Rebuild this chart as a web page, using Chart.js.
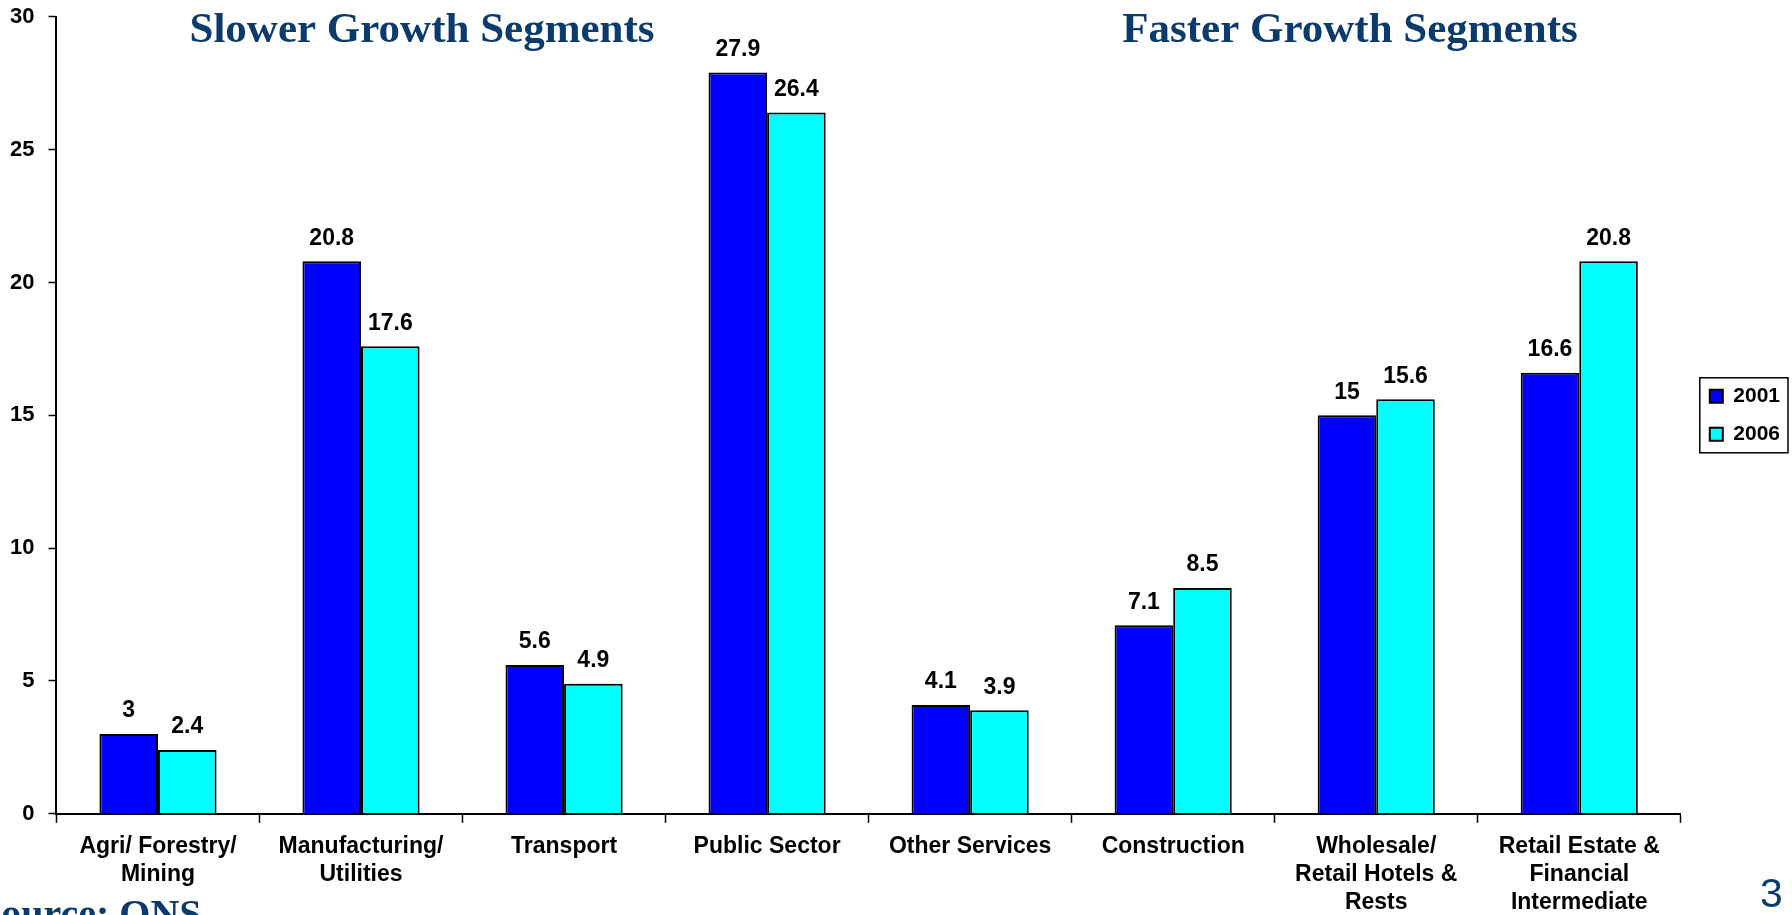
<!DOCTYPE html>
<html>
<head>
<meta charset="utf-8">
<script src="https://cdn.jsdelivr.net/npm/chart.js@4.4.0/dist/chart.umd.min.js"></script>
<style>
  html, body { margin: 0; padding: 0; background: #fff; overflow: hidden; }
  #wrap { position: relative; width: 1792px; height: 915px; }
</style>
</head>
<body>
<div id="wrap"><canvas id="barChartCanvas" width="1792" height="915"></canvas></div>
<script>
// data
const categories = [
    ["Agri/ Forestry/", "Mining"],
    ["Manufacturing/", "Utilities"],
    ["Transport"],
    ["Public Sector"],
    ["Other Services"],
    ["Construction"],
    ["Wholesale/", "Retail Hotels &", "Rests"],
    ["Retail Estate &", "Financial", "Intermediate"]
];
const values2001 = [3, 20.8, 5.6, 27.9, 4.1, 7.1, 15, 16.6];
const values2006 = [2.4, 17.6, 4.9, 26.4, 3.9, 8.5, 15.6, 20.8];
const seriesNames = ["2001", "2006"];
const yTicks = [0, 5, 10, 15, 20, 25, 30];

const NAVY = "#0b3a6d";
const SANS = "'Liberation Sans', Arial, sans-serif";
const SERIF = "'Liberation Serif', 'Times New Roman', serif";

// value labels over each bar
const valueLabels = {
    id: "valueLabels",
    afterDatasetsDraw(chart) {
        const ctx = chart.ctx;
        ctx.save();
        ctx.font = "bold 23px " + SANS;
        ctx.fillStyle = "#000";
        ctx.textAlign = "center";
        ctx.textBaseline = "middle";
        chart.data.datasets.forEach((ds, i) => {
            chart.getDatasetMeta(i).data.forEach((bar, j) => {
                ctx.fillText(String(ds.data[j]), bar.x, bar.y - 23);
            });
        });
        ctx.restore();
    }
};

// push the legend a little further away from the plot
const legendNudge = {
    id: "legendNudge",
    afterLayout(chart) {
        const lg = chart.legend;
        if (lg) {
            lg.left += 12;
            lg.right += 12;
        }
    }
};

// titles, source, page number and legend frame
const slideText = {
    id: "slideText",
    afterDraw(chart) {
        const ctx = chart.ctx;
        ctx.save();
        ctx.fillStyle = NAVY;
        ctx.textBaseline = "alphabetic";
        ctx.font = "bold 43px " + SERIF;
        ctx.textAlign = "center";
        ctx.fillText("Slower Growth Segments", 422, 42);
        ctx.fillText("Faster Growth Segments", 1350, 42);
        ctx.textAlign = "left";
        ctx.font = "bold 40px " + SERIF;
        ctx.fillText("Source: ONS", -21, 927);
        ctx.font = "41px " + SANS;
        ctx.fillText("3", 1760, 907);

        // legend border
        const boxes = chart.legend.legendHitBoxes;
        if (boxes && boxes.length) {
            const l = Math.min(...boxes.map(b => b.left)) - 10;
            const r = Math.max(...boxes.map(b => b.left + b.width)) + 8;
            const t = Math.min(...boxes.map(b => b.top)) - 8;
            const btm = Math.max(...boxes.map(b => b.top + b.height)) + 8;
            ctx.strokeStyle = "#000";
            ctx.lineWidth = 1.5;
            ctx.strokeRect(l, t, r - l, btm - t);
        }
        ctx.restore();
    }
};

const ctx = document.getElementById("barChartCanvas").getContext("2d");
new Chart(ctx, {
    type: "bar",
    data: {
        labels: categories,
        datasets: [
            {
                label: seriesNames[0],
                data: values2001,
                backgroundColor: "#0000ff",
                borderColor: "#000",
                borderWidth: 2,
                categoryPercentage: 0.577,
                barPercentage: 1.0
            },
            {
                label: seriesNames[1],
                data: values2006,
                backgroundColor: "#00ffff",
                borderColor: "#000",
                borderWidth: 2,
                categoryPercentage: 0.577,
                barPercentage: 1.0
            }
        ]
    },
    options: {
        responsive: false,
        animation: false,
        layout: { padding: { top: -10, left: -4, right: 14, bottom: -12 } },
        scales: {
            x: {
                offset: true,
                border: { color: "#000", width: 2 },
                grid: {
                    offset: true,
                    drawOnChartArea: false,
                    drawTicks: true,
                    tickLength: 9,
                    tickColor: "#000",
                    tickWidth: 1.5
                },
                ticks: {
                    color: "#000",
                    font: { family: SANS, size: 23, weight: "bold", lineHeight: 1.22 },
                    padding: 10,
                    maxRotation: 0,
                    autoSkip: false
                }
            },
            y: {
                min: 0,
                max: 30,
                afterBuildTicks(axis) {
                    axis.ticks = yTicks.map(v => ({ value: v }));
                },
                border: { color: "#000", width: 2 },
                grid: {
                    drawOnChartArea: false,
                    tickLength: 8,
                    tickColor: "#000",
                    tickWidth: 1.5
                },
                ticks: {
                    color: "#000",
                    font: { family: SANS, size: 22, weight: "bold", lineHeight: 0.25 },
                    padding: 14
                }
            }
        },
        plugins: {
            legend: {
                position: "right",
                align: "center",
                fullSize: false,
                labels: {
                    color: "#000",
                    font: { family: SANS, size: 21, weight: "bold" },
                    boxWidth: 13,
                    boxHeight: 13,
                    padding: 17
                }
            },
            tooltip: { enabled: false }
        }
    },
    plugins: [legendNudge, valueLabels, slideText]
});
</script>
</body>
</html>
